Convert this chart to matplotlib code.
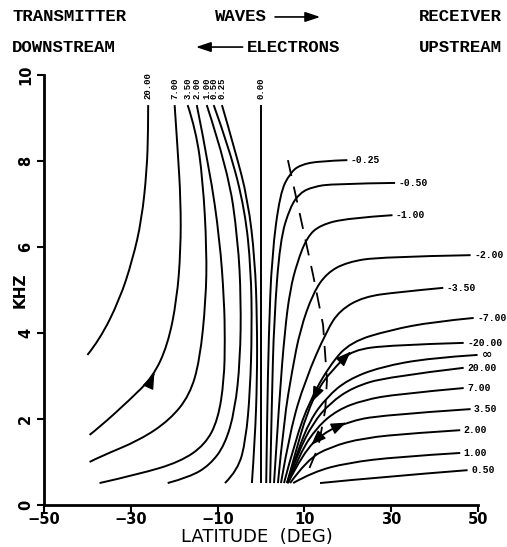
import matplotlib
matplotlib.use("Agg")
import matplotlib.pyplot as plt
from matplotlib.path import Path
from matplotlib.patches import PathPatch, FancyArrowPatch

# contours of constant value, traced as (latitude deg, frequency kHz)
# left family: label sits at the top of each curve
left_labels = ["20.00", "7.00", "3.50", "2.00", "1.00", "0.50", "0.25", "0.00"]
left_lat = [
    [-40.0, -37.2, -32.6, -29.6, -27.5, -26.3, -26.0, -26.0],
    [-39.5, -37.2, -30.3, -24.9, -21.5, -19.4, -18.5, -18.5, -19.2, -19.9],
    [-39.5, -37.2, -27.9, -21.0, -16.4, -14.1, -12.7, -12.5, -13.4, -15.0, -16.9],
    [-37.2, -28.0, -18.7, -12.9, -9.9, -8.5, -8.3, -8.5, -9.5, -11.8, -14.8],
    [-21.5, -16.4, -11.8, -8.3, -6.0, -4.8, -4.6, -5.3, -7.6, -12.5],
    [-8.3, -5.3, -3.5, -2.5, -2.1, -2.3, -3.7, -7.2, -10.9],
    [-2.1, -1.4, -0.9, -0.9, -1.4, -3.0, -6.0, -9.0],
    [0.0, 0.0],
]
left_khz = [
    [3.49, 3.84, 4.77, 5.70, 6.63, 7.79, 8.72, 9.30],
    [1.63, 1.81, 2.44, 2.98, 3.72, 4.77, 5.93, 7.09, 8.26, 9.30],
    [1.00, 1.12, 1.51, 1.98, 2.56, 3.37, 4.77, 5.93, 7.56, 8.72, 9.30],
    [0.51, 0.72, 1.00, 1.40, 1.98, 2.91, 3.84, 4.77, 6.16, 7.79, 9.30],
    [0.51, 0.65, 0.93, 1.40, 2.21, 3.37, 4.77, 6.16, 7.79, 9.30],
    [0.51, 0.81, 1.51, 2.67, 4.07, 5.47, 6.86, 8.26, 9.30],
    [0.51, 1.51, 2.91, 4.30, 5.70, 7.09, 8.26, 9.30],
    [0.51, 9.30],
]

# right family: label sits at the right-hand end of each curve
right_labels = ["-0.25", "-0.50", "-1.00", "-2.00", "-3.50", "-7.00", "-20.00",
                "\u221e", "20.00", "7.00", "3.50", "2.00", "1.00", "0.50"]
right_lat = [
    [1.2, 1.4, 1.8, 2.5, 4.4, 6.7, 9.0, 13.6, 19.9],
    [2.1, 2.5, 3.0, 4.4, 6.7, 9.0, 12.0, 16.6, 30.9],
    [3.0, 4.2, 5.5, 6.7, 8.3, 10.6, 13.6, 19.9, 30.3],
    [3.9, 5.3, 7.2, 9.0, 12.0, 15.2, 19.9, 27.5, 48.3],
    [4.6, 6.7, 10.2, 15.2, 18.2, 23.6, 31.4, 42.0],
    [5.3, 7.9, 11.3, 15.9, 20.6, 29.8, 39.7, 49.0],
    [6.0, 7.9, 10.6, 13.6, 17.6, 21.0, 29.8, 46.7],
    [6.0, 8.3, 11.3, 15.2, 19.9, 27.5, 39.0, 49.9],
    [6.0, 8.5, 12.0, 15.9, 21.2, 29.1, 46.7],
    [6.2, 9.0, 12.9, 17.6, 23.6, 31.4, 46.7],
    [6.2, 9.7, 14.3, 19.9, 27.5, 48.3],
    [6.7, 10.6, 15.9, 23.6, 35.1, 45.9],
    [7.4, 12.0, 19.9, 31.4, 45.9],
    [13.6, 27.5, 47.6],
]
right_khz = [
    [0.51, 2.00, 4.00, 5.80, 7.26, 7.72, 7.91, 8.00, 8.02],
    [0.51, 2.44, 4.30, 6.16, 6.93, 7.26, 7.40, 7.47, 7.49],
    [0.51, 2.44, 4.07, 5.00, 5.63, 6.23, 6.51, 6.67, 6.74],
    [0.51, 1.98, 3.14, 4.07, 4.93, 5.40, 5.65, 5.77, 5.81],
    [0.51, 1.74, 2.91, 4.07, 4.53, 4.84, 4.95, 5.05],
    [0.51, 1.51, 2.44, 3.26, 3.79, 4.07, 4.26, 4.35],
    [0.51, 1.21, 2.14, 2.79, 3.26, 3.60, 3.72, 3.77],
    [0.51, 1.21, 1.98, 2.51, 2.91, 3.21, 3.42, 3.49],
    [0.51, 1.21, 1.91, 2.37, 2.74, 2.98, 3.19],
    [0.51, 1.21, 1.81, 2.21, 2.44, 2.58, 2.72],
    [0.51, 1.21, 1.67, 1.93, 2.09, 2.23],
    [0.51, 1.05, 1.35, 1.56, 1.67, 1.74],
    [0.51, 0.77, 0.98, 1.12, 1.21],
    [0.51, 0.65, 0.81],
]

# dashed boundary curve
dash_lat = [6.2, 9.0, 12.0, 14.3, 15.2, 14.8, 13.2, 10.2]
dash_khz = [8.02, 6.74, 5.35, 4.19, 2.91, 2.21, 1.35, 0.63]

# arrowheads: (family, curve index, segment index, position along segment, reversed?)
arrows = [("L", 1, 3, 0.05, False),
          ("R", 6, 4, 0.85, False), ("R", 6, 2, 0.45, True),
          ("R", 10, 2, 0.9, False), ("R", 10, 1, 0.45, True)]


def smooth_path(xs, ys):
    # quadratic Bezier through segment midpoints, using the traced points as controls
    pts = list(zip(xs, ys))
    if len(pts) < 3:
        return Path(pts)
    verts = [pts[0]]
    codes = [Path.MOVETO]
    for i in range(1, len(pts) - 1):
        mid = ((pts[i][0] + pts[i + 1][0]) / 2, (pts[i][1] + pts[i + 1][1]) / 2)
        if i == len(pts) - 2:
            mid = pts[-1]
        verts += [pts[i], mid]
        codes += [Path.CURVE3, Path.CURVE3]
    return Path(verts, codes)


fig = plt.figure(figsize=(5.07, 5.47), dpi=100)
ax = fig.add_axes([0.0868, 0.0768, 0.8560, 0.7861])

lw = 1.4
lab_font = dict(fontsize=7, fontweight="bold", family="Liberation Mono")
for i in range(len(left_labels)):
    ax.add_patch(PathPatch(smooth_path(left_lat[i], left_khz[i]), fill=False,
                           ec="black", lw=lw))
    ax.text(left_lat[i][-1], left_khz[i][-1] + 0.15, left_labels[i], rotation=90,
            ha="center", va="bottom", fontsize=6.5, fontweight="bold",
            family="Liberation Mono")

for i in range(len(right_labels)):
    ax.add_patch(PathPatch(smooth_path(right_lat[i], right_khz[i]), fill=False,
                           ec="black", lw=lw))
    lab = right_labels[i]
    if lab == "\u221e":
        ax.text(right_lat[i][-1] + 1.0, right_khz[i][-1] + 0.02, lab, ha="left",
                va="center", fontsize=9, fontweight="bold")
    else:
        ax.text(right_lat[i][-1] + 0.8, right_khz[i][-1], lab, ha="left",
                va="center", **lab_font)

ax.plot(dash_lat, dash_khz, color="black", lw=1.3, dashes=(9, 6))

for fam, ci, si, t, rev in arrows:
    xs = left_lat[ci] if fam == "L" else right_lat[ci]
    ys = left_khz[ci] if fam == "L" else right_khz[ci]
    x0, y0, x1, y1 = xs[si], ys[si], xs[si + 1], ys[si + 1]
    xm, ym = x0 + (x1 - x0) * t, y0 + (y1 - y0) * t
    dx, dy = (x1 - x0) * 0.04, (y1 - y0) * 0.04
    if rev:
        dx, dy = -dx, -dy
    ax.add_patch(FancyArrowPatch((xm - dx, ym - dy), (xm + dx, ym + dy),
                                 arrowstyle="-|>,head_length=0.9,head_width=0.35",
                                 mutation_scale=10, color="black", lw=1))

ax.set_xlim(-50, 50)
ax.set_ylim(0, 10)
ax.spines["top"].set_visible(False)
ax.spines["right"].set_visible(False)
ax.spines["left"].set_linewidth(2)
ax.spines["bottom"].set_linewidth(2)
ax.set_xticks([-50, -30, -10, 10, 30, 50])
ax.set_yticks([0, 2, 4, 6, 8, 10])
ax.tick_params(direction="out", length=5, width=1.5, labelsize=10.5)
ax.tick_params(axis="x", pad=0)
ax.tick_params(axis="y", pad=3)
for t in ax.get_xticklabels():
    t.set_fontweight("bold")
for t in ax.get_yticklabels():
    t.set_fontweight("bold")
    t.set_rotation(90)
    t.set_va("center")
ax.set_xlabel("LATITUDE  (DEG)", fontsize=13)
ax.xaxis.set_label_coords(0.49, -0.074)
ax.xaxis.label.set_va("center")
ax.set_ylabel("KHZ", fontsize=11, fontweight="bold")
ax.yaxis.set_label_coords(-0.055, 0.5)
ax.yaxis.label.set_va("center")

# header text
hdr = dict(fontsize=12.5, fontweight="bold", family="Liberation Mono")
fig.text(0.024, 0.969, "TRANSMITTER", ha="left", va="center", **hdr)
fig.text(0.424, 0.969, "WAVES", ha="left", va="center", **hdr)
fig.text(0.99, 0.969, "RECEIVER", ha="right", va="center", **hdr)
fig.text(0.024, 0.914, "DOWNSTREAM", ha="left", va="center", **hdr)
fig.text(0.487, 0.914, "ELECTRONS", ha="left", va="center", **hdr)
fig.text(0.99, 0.914, "UPSTREAM", ha="right", va="center", **hdr)
arr = dict(arrowstyle="-|>,head_length=0.9,head_width=0.3", mutation_scale=10,
           color="black", lw=1.2, transform=fig.transFigure)
fig.add_artist(FancyArrowPatch((0.537, 0.969), (0.637, 0.969), **arr))
fig.add_artist(FancyArrowPatch((0.484, 0.914), (0.381, 0.914), **arr))

fig.savefig("out.png", dpi=100)
